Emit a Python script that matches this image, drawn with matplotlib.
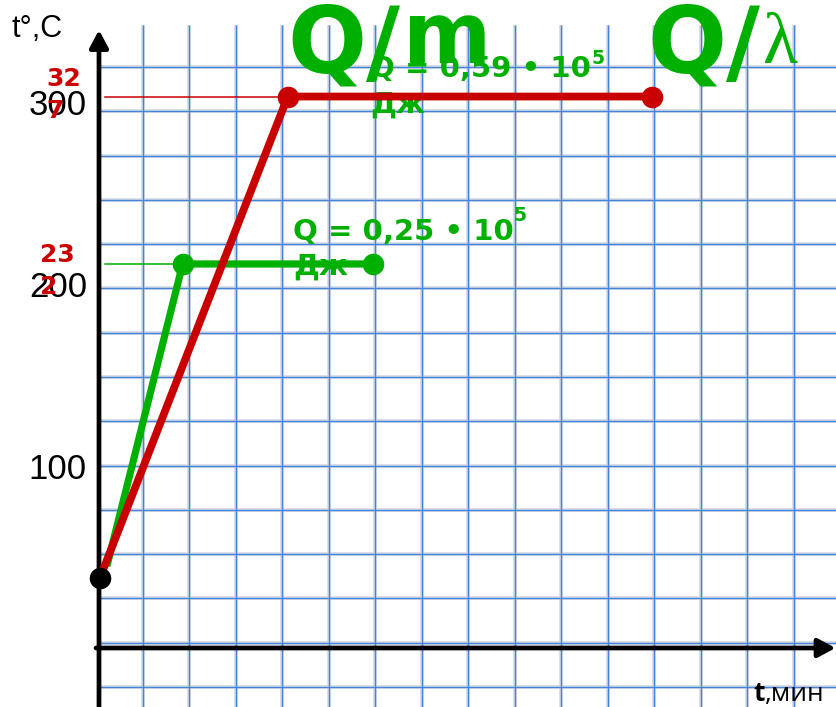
import matplotlib.pyplot as plt
import numpy as np

# Heating curves: time in grid cells (minutes), temperature in °C
START_TIME = [0.02]
START_TEMP = [38.5]

RED_TIME = [0.02, 4.06, 11.9]
RED_TEMP = [38.5, 303, 303]

GREEN_TIME = [0.17, 1.8, 5.9]
GREEN_TEMP = [45, 211, 211]

Y_TICKS = [100, 200, 300]
Y_TICK_LABELS = ["100", "200", "300"]

RED_MELT_LABEL = "32\n7"
GREEN_MELT_LABEL = "23\n2"
Q_RED_LABEL = "Q = 0,59 • 10\nДж"
Q_GREEN_LABEL = "Q = 0,25 • 10\nДж"
Q_POWER = "5"

# Layout in pixels of the 837x707 picture
W, H = 837, 707
X0, DX = 99, 46.5    # pixel of t = 0, pixels per minute
Y0, DY = 648, 1.82   # pixel of 0 °C, pixels per degree

RED = "#c80000"
GREEN = "#00b000"
GRID_BLUE = "#4684da"
GRID_HALO = "#d3d9e3"


def px(x, y):
    # picture pixel (from top left) -> data coordinates
    return (x - X0) / DX, (Y0 - y) / DY


fig = plt.figure(figsize=(W / 100, H / 100), dpi=100)
ax = fig.add_axes([0, 0, 1, 1])
ax.set_xlim(-X0 / DX, (W - X0) / DX)
ax.set_ylim(-(H - Y0) / DY, Y0 / DY)
ax.axis("off")

# squared paper grid
gx = (143 + 46.5 * np.arange(15) - X0) / DX
gy = (Y0 - (67 + 44.29 * np.arange(15))) / DY
top = px(0, 25)[1]
bottom = px(0, H)[1]
right = px(W, 0)[0]
for lw, col, z in [(2.6, GRID_HALO, 0), (1.0, GRID_BLUE, 1)]:
    ax.vlines(gx, bottom, top, colors=col, lw=lw, zorder=z)
    ax.hlines(gy, 0, right, colors=col, lw=lw, zorder=z)

# axes with arrows
arrow = dict(arrowstyle="-|>,head_length=0.75,head_width=0.4", lw=3.4,
             color="black", shrinkA=0, shrinkB=0, mutation_scale=14)
ax.annotate("", xy=px(X0, 30), xytext=(0, bottom), arrowprops=arrow, zorder=2)
ax.annotate("", xy=(right - 0.03, 0), xytext=(px(96, 0)[0], 0), arrowprops=arrow, zorder=2)

# thin reference lines to the axis
ax.plot([0.13, RED_TIME[1]], [RED_TEMP[1]] * 2, color=RED, lw=1.1, zorder=3)
ax.plot([0.13, GREEN_TIME[1]], [GREEN_TEMP[1]] * 2, color=GREEN, lw=1.1, zorder=3)

# text labels of heat
qstyle = dict(color=GREEN, fontweight="bold", family="DejaVu Sans", va="baseline",
              ha="left", zorder=3)
ax.text(*px(293, 275), Q_GREEN_LABEL, fontsize=21, linespacing=1.33, **qstyle)
ax.text(*px(514, 221), Q_POWER, fontsize=13.5, **qstyle)
ax.text(*px(370, 113), Q_RED_LABEL, fontsize=21, linespacing=1.35, **qstyle)
ax.text(*px(592, 64), Q_POWER, fontsize=13.5, **qstyle)

# curves
ax.plot(GREEN_TIME, GREEN_TEMP, color=GREEN, lw=5.2, solid_capstyle="butt", zorder=4)
ax.plot(GREEN_TIME[1:], GREEN_TEMP[1:], "o", ms=14.5, color=GREEN, zorder=5)
ax.plot(RED_TIME, RED_TEMP, color=RED, lw=5.6, solid_capstyle="butt", zorder=4)
ax.plot(RED_TIME[1:], RED_TEMP[1:], "o", ms=14.5, color=RED, zorder=5)
ax.plot(START_TIME, START_TEMP, "o", ms=14.5, color="black", zorder=6)

# y tick labels
for v, lab in zip(Y_TICKS, Y_TICK_LABELS):
    ax.text(px(87, 0)[0], v, lab, ha="right", va="center_baseline", fontsize=25,
            family="Liberation Sans", zorder=3)

# melting temperature labels
mstyle = dict(color="#cc0000", fontsize=18, fontweight="bold", family="DejaVu Sans",
              va="baseline", ha="left", linespacing=1.42, zorder=4)
ax.text(*px(46, 118), RED_MELT_LABEL, **mstyle)
ax.text(*px(40, 294), GREEN_MELT_LABEL, **mstyle)

# axis titles
ax.text(*px(12, 37), "t°,С", fontsize=22, family="Liberation Sans", va="baseline", zorder=3)
ax.text(*px(753, 701), "t", fontsize=19, fontweight="bold", family="Open Sans",
        va="baseline", zorder=3)
ax.text(*px(765, 701), ",мин", fontsize=19, family="Open Sans", va="baseline", zorder=3)

# big formulas
big = dict(color=GREEN, fontweight="bold", family="DejaVu Sans", va="baseline", zorder=7)
ax.text(*px(287, 72), "Q/", fontsize=67, **big)
ax.text(*px(403, 63), "m", fontsize=61, **big)
ax.text(*px(647, 72), "Q/", fontsize=67, **big)
ax.text(*px(762, 63), "λ", color=GREEN, fontsize=52, family="Liberation Serif",
        va="baseline", zorder=7)

fig.savefig("out.png", dpi=100)
